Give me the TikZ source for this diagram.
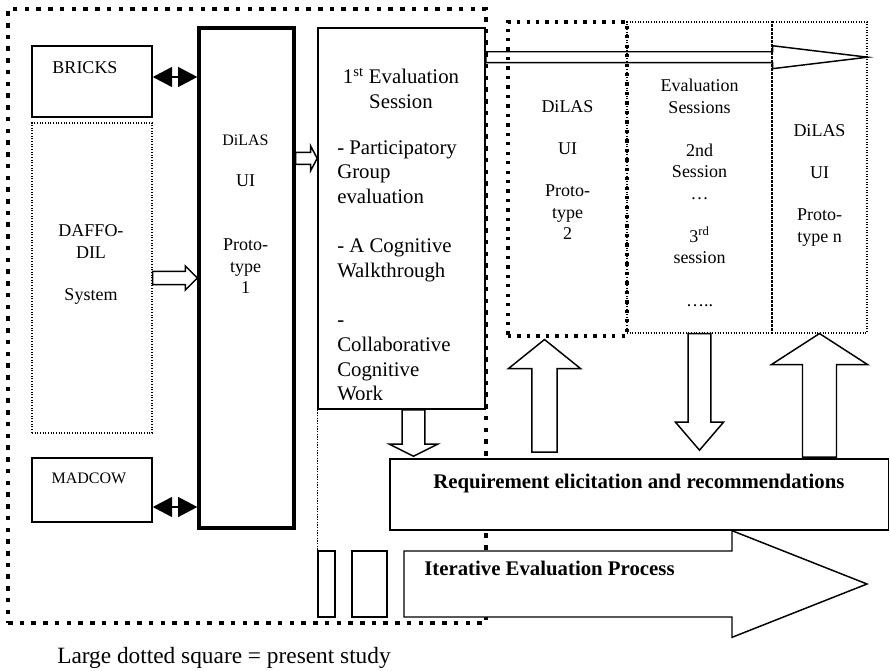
\documentclass[tikz,border=0pt]{standalone}
\usepackage{fontspec}
\setmainfont{Liberation Serif}
\usetikzlibrary{calc,fit,arrows.meta}

% Hollow block arrows. [#1] extra style, #2 tail point, #3 tip point,
% #4 half body width, #5 half head width, #6 head length.
\newcommand\blockright[6][]{%
  \draw[blockarrow,#1] let \p1=(#2), \p2=(#3) in
    (\x1,\y1+#4) -- (\x2-#6,\y1+#4) -- (\x2-#6,\y1+#5) -- (\x2,\y1)
    -- (\x2-#6,\y1-#5) -- (\x2-#6,\y1-#4) -- (\x1,\y1-#4) -- cycle;}
\newcommand\blockup[6][]{%
  \draw[blockarrow,#1] let \p1=(#2), \p2=(#3) in
    (\x1-#4,\y1) -- (\x1-#4,\y2-#6) -- (\x1-#5,\y2-#6) -- (\x1,\y2)
    -- (\x1+#5,\y2-#6) -- (\x1+#4,\y2-#6) -- (\x1+#4,\y1) -- cycle;}
\newcommand\blockdown[6][]{%
  \draw[blockarrow,#1] let \p1=(#2), \p2=(#3) in
    (\x1-#4,\y1) -- (\x1-#4,\y2+#6) -- (\x1-#5,\y2+#6) -- (\x1,\y2)
    -- (\x1+#5,\y2+#6) -- (\x1+#4,\y2+#6) -- (\x1+#4,\y1) -- cycle;}

\begin{document}
\begin{tikzpicture}[x=0.75pt, y=-0.75pt,
  box/.style={draw, line width=1.2pt, inner sep=0pt},
  thickbox/.style={draw, line width=2.5pt, inner sep=0pt},
  finedots/.style={draw, line width=0.8pt, dash pattern=on 0.8pt off 1.2pt, inner sep=0pt},
  studyframe/.style={draw, line width=3pt, dash pattern=on 3.4pt off 5.4pt, inner sep=0pt},
  stageframe/.style={draw, line width=2.3pt, dash pattern=on 2.5pt off 4.6pt, inner sep=0pt},
  blockarrow/.style={draw, line width=1.1pt, line join=miter},
  dblarrow/.style={line width=1pt, {Triangle[length=14.5pt,width=15pt]}-{Triangle[length=14.5pt,width=15pt]}},
  lbl/.style={inner sep=0pt, align=center, font=\fontsize{13.5}{15.9}\selectfont},
  sesstxt/.style={inner sep=0pt, font=\fontsize{15.6}{18.5}\selectfont},
  headline/.style={inner sep=0pt, anchor=base west, font=\fontsize{15.6}{18}\selectfont\bfseries}]

\useasboundingbox (0,0) rectangle (890,671);

% frame of the present study
\node[studyframe, fit={(8,9) (486,623)}] (study) {};

% systems and first prototype
\node[box, fit={(32,46) (152,117)}] (bricks) {};
\node[finedots, fit={(32,123) (152,433)}] (daffodil) {};
\node[box, fit={(32,458) (152,522)}] (madcow) {};
\node[thickbox, fit={(199,28) (294,528)}] (proto1) {};
\node[box, fit={(318,28) (485,409)}] (sess) {};

% later iterations
\node[stageframe, fit={(508,22) (627,336)}] (proto2) {};
\node[finedots, fit={(627,22) (772,333)}] (evalsess) {};
\node[finedots, fit={(772,22) (867,333)}] (protoN) {};

% small bars before the process arrow
\node[box, fit={(318,551) (335,617)}] (bar1) {};
\node[box, fit={(352,551) (387,617)}] (bar2) {};
\draw[line width=0.8pt, dash pattern=on 0.8pt off 1.2pt] (sess.south west) -- (bar1.north west);

% requirements box
\node[box, fill=white, fit={(390,459) (888.5,530)}] (req) {};

% connectors
\draw[dblarrow] ($(bricks.east)+(0,-4.5)$) -- ($(bricks.east -| proto1.west)+(0,-4.5)$);
\draw[dblarrow] ($(madcow.east)+(0,17)$) -- ($(madcow.east -| proto1.west)+(0,17)$);
\blockright{daffodil.east}{proto1.west}{4.9pt}{9pt}{9pt}
\blockright{$(proto1.north east)+(0,132)$}{sess.west}{4.5pt}{9.4pt}{5pt}
\blockright{$(sess.north east)+(0,30)$}{protoN.east}{4.1pt}{8.6pt}{71.25pt}
\blockdown{$(sess.south)+(12,0)$}{$(req.north)+(0,-2)$}{8.6pt}{18pt}{9pt}
\blockup{$(req.north -| proto2.south)+(-23,-6)$}{$(proto2.south)+(0,2)$}{9.4pt}{27pt}{21.75pt}
\blockdown{evalsess.south}{$(req.north)+(0,-8)$}{8.6pt}{18pt}{21pt}
\blockup{$(req.north -| protoN.south)+(0,-1)$}{protoN.south}{12.75pt}{36pt}{23.25pt}

% iterative process arrow
\coordinate (iterTail) at (404,584);
\coordinate (iterTip) at (867,584);
\blockright[fill=white]{iterTail}{iterTip}{24.75pt}{40pt}{101.25pt}

% texts
\node[lbl, anchor=base] (bricksText) at (85,73) {BRICKS};
\node[lbl, anchor=north, font=\fontsize{13.5}{16.5}\selectfont] (daffText) at (91,224) {DAFFO-\\DIL\\[15pt]System};
\node[lbl, anchor=base, font=\fontsize{12}{14}\selectfont] (madcowText) at (89,483) {MADCOW};
\node[lbl, anchor=north, font=\fontsize{13.5}{16}\selectfont] (proto1Text) at (245.5,135)
  {{\fontsize{12}{16}\selectfont DiLAS}\\[14.7pt]UI\\[32pt]Proto-\\type\\1};

\begin{scope}
  \clip (318,28) rectangle (485,399.5);
  \node[sesstxt, anchor=north, align=center] (sessTitle) at (401,68)
    {1\textsuperscript{st} Evaluation\\Session};
  \node[sesstxt, anchor=north west, align=left] (sessBody) at (337,140)
    {- Participatory\\Group\\evaluation\\[18.5pt]- A Cognitive\\Walkthrough\\[18.5pt]-\\Collaborative\\Cognitive\\Work};
\end{scope}

\node[lbl, anchor=north] (proto2Text) at (567.5,100) {DiLAS\\[15.9pt]UI\\[15.9pt]Proto-\\type\\2};
\node[lbl, anchor=north, font=\fontsize{13.5}{16.1}\selectfont] (evalText) at (699.5,79)
  {Evaluation\\Sessions\\[16.1pt]2nd\\Session\\…\\[16.1pt]3\textsuperscript{rd}\\session\\[16.1pt]…..};
\node[lbl, anchor=north] (protoNText) at (819.5,124) {DiLAS\\[15.9pt]UI\\[15.9pt]Proto-\\type n};

\node[headline] (reqText) at (433,488) {Requirement elicitation and recommendations};
\node[headline] (iterText) at (424,575) {Iterative Evaluation Process};

\node[inner sep=0pt, anchor=base west, font=\fontsize{17.5}{21}\selectfont] (caption) at (57,663)
  {Large dotted square = present study};
\end{tikzpicture}
\end{document}
